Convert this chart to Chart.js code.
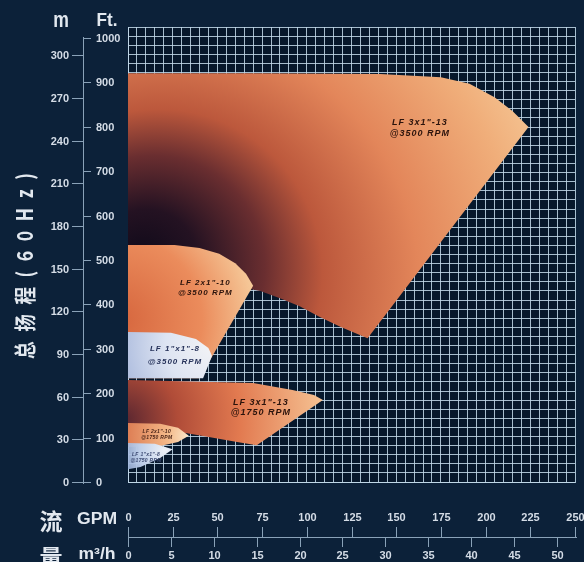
<!DOCTYPE html>
<html>
<head>
<meta charset="utf-8">
<script src="https://cdn.jsdelivr.net/npm/chart.js@4.4.0/dist/chart.umd.min.js"></script>
<style>
  html, body { margin: 0; padding: 0; background: #0c2139; }
  #wrap { width: 584px; height: 562px; position: relative; }
</style>
</head>
<body>
<div id="wrap"><canvas id="canvas"></canvas></div>
<script>
// axis ticks
const gpmTicks = [0, 25, 50, 75, 100, 125, 150, 175, 200, 225, 250]
const m3hTicks = [0, 5, 10, 15, 20, 25, 30, 35, 40, 45, 50]
const ftTicks = [0, 100, 200, 300, 400, 500, 600, 700, 800, 900, 1000]
const mTicks = [0, 30, 60, 90, 120, 150, 180, 210, 240, 270, 300]

// coverage outlines, [GPM, Ft]
const lf3x13_3500 = [[0, 921], [68, 921], [141, 919], [175, 912], [191, 897], [205, 867], [215, 836], [224, 800],
  [134, 324], [119, 349], [107, 372], [96, 396], [85, 414], [74, 430], [63, 439], [40, 446], [0, 448]]
const lf2x10_3500 = [[0, 534], [26, 534], [40, 527], [51, 514], [60, 493], [66, 469], [70, 442], [40, 234], [0, 234]]
const lf1x8_3500 = [[0, 338], [24, 336], [38, 322], [45, 302], [47, 284], [42, 234], [0, 234]]
const lf3x13_1750 = [[0, 230], [70, 223], [92, 207], [104, 196], [109, 185], [72, 83], [61, 90], [46, 101], [33, 110], [0, 117]]
const lf2x10_1750 = [[0, 133], [18, 131], [28, 122], [34, 104], [28, 90], [18, 81], [0, 79]]
const lf1x8_1750 = [[0, 88], [15, 86], [25, 74], [18, 54], [7, 34], [0, 29]]

const names = [
  ['LF 3x1"-13', '@3500 RPM'],
  ['LF 2x1"-10', '@3500 RPM'],
  ['LF 1"x1"-8', '@3500 RPM'],
  ['LF 3x1"-13', '@1750 RPM'],
  ['LF 2x1"-10', '@1750 RPM'],
  ['LF 1"x1"-8', '@1750 RPM'],
]

const FONT = '"Liberation Sans", Arial, sans-serif'
const CJK = '"Noto Sans CJK SC", sans-serif'

// radial fill, inner point (cx,cy) and outer circle centre shifted by (dx,dy) px
function radial(cx, cy, r, stops, dx, dy) {
  return function (c) {
    const chart = c.chart
    const x = chart.scales.x, y = chart.scales.y
    if (!chart.chartArea || !x) return stops[stops.length - 1][1]
    const px = x.getPixelForValue(cx), py = y.getPixelForValue(cy)
    const g = chart.ctx.createRadialGradient(px, py, 0, px + (dx || 0), py + (dy || 0), r)
    stops.forEach(s => g.addColorStop(s[0], s[1]))
    return g
  }
}

function region(data, order, bg) {
  return { data: data, order: order, backgroundColor: bg, fill: 'shape', showLine: true,
    pointRadius: 0, borderWidth: 0, tension: 0 }
}

// draw text char by char with a gap
function spaced(ctx, text, cx, cy, gap) {
  const chars = [...text]
  const ws = chars.map(c => ctx.measureText(c).width)
  const total = ws.reduce((a, b) => a + b, 0) + gap * (chars.length - 1)
  let px = cx - total / 2
  ctx.textAlign = 'left'
  chars.forEach((c, i) => { ctx.fillText(c, px, cy); px += ws[i] + gap })
}

function stretched(ctx, text, x, y, sx) {
  ctx.save()
  ctx.translate(x, y)
  ctx.scale(sx, 1)
  ctx.fillText(text, 0, 0)
  ctx.restore()
}

const labelSpots = [
  { at: [163, 809], gap: 11, size: 9, color: '#2b130c' },
  { at: [43, 448], gap: 10, size: 8, color: '#2b130c' },
  { at: [26, 300], gap: 13, size: 8, color: '#26325a' },
  { at: [74, 180], gap: 10, size: 9, color: '#2b130c' },
  { at: [16, 113], gap: 6, size: 5, color: '#4a2418' },
  { at: [10, 61], gap: 6, size: 5, color: '#3a4870' },
]

const background = {
  id: 'background',
  beforeDraw(chart) {
    const ctx = chart.ctx, a = chart.chartArea
    ctx.save()
    ctx.fillStyle = '#0c2139'
    ctx.fillRect(0, 0, chart.width, chart.height)
    ctx.fillStyle = '#07182c'
    ctx.fillRect(a.left, a.top, a.right - a.left, a.bottom - a.top)
    ctx.restore()
  },
}

const regionLabels = {
  id: 'regionLabels',
  afterDatasetsDraw(chart) {
    const ctx = chart.ctx, x = chart.scales.x, y = chart.scales.y
    ctx.save()
    ctx.textBaseline = 'middle'
    labelSpots.forEach((s, i) => {
      const px = x.getPixelForValue(s.at[0]), py = y.getPixelForValue(s.at[1])
      ctx.font = 'italic bold ' + s.size + 'px ' + FONT
      ctx.fillStyle = s.color
      spaced(ctx, names[i][0], px, py, s.size > 6 ? 1 : 0.3)
      spaced(ctx, names[i][1], px, py + s.gap, s.size > 6 ? 1 : 0.3)
    })
    ctx.restore()
  },
}

const outerAxes = {
  id: 'outerAxes',
  afterDraw(chart) {
    const ctx = chart.ctx
    const { x, y, xm, ym } = chart.scales
    ctx.save()
    ctx.strokeStyle = '#8aa2b8'
    ctx.fillStyle = '#d4dce6'
    ctx.lineWidth = 1

    // left: m / Ft
    ctx.beginPath()
    ctx.moveTo(83.5, 37)
    ctx.lineTo(83.5, 484)
    ctx.stroke()
    ctx.font = 'bold 11px ' + FONT
    ctx.textBaseline = 'middle'
    mTicks.forEach(v => {
      const py = Math.round(ym.getPixelForValue(v)) + 0.5
      ctx.beginPath(); ctx.moveTo(72, py); ctx.lineTo(83, py); ctx.stroke()
      ctx.textAlign = 'right'
      ctx.fillText(String(v), 69, py)
    })
    ftTicks.forEach(v => {
      const py = Math.round(y.getPixelForValue(v)) + 0.5
      ctx.beginPath(); ctx.moveTo(84, py); ctx.lineTo(91, py); ctx.stroke()
      ctx.textAlign = 'left'
      ctx.fillText(String(v), 96, py)
    })

    // bottom: GPM / m3/h
    ctx.beginPath()
    ctx.moveTo(128, 537.5)
    ctx.lineTo(577, 537.5)
    ctx.stroke()
    ctx.textAlign = 'center'
    gpmTicks.forEach(v => {
      const px = Math.round(x.getPixelForValue(v)) + 0.5
      ctx.beginPath(); ctx.moveTo(px, 527); ctx.lineTo(px, 537); ctx.stroke()
      ctx.fillText(String(v), px, 518)
    })
    m3hTicks.forEach(v => {
      const px = Math.round(xm.getPixelForValue(v)) + 0.5
      ctx.beginPath(); ctx.moveTo(px, 538); ctx.lineTo(px, 547); ctx.stroke()
      ctx.fillText(String(v), px, 556)
    })

    // axis titles
    ctx.fillStyle = '#e2e8ef'
    ctx.textAlign = 'center'
    ctx.font = 'bold 22px ' + FONT
    stretched(ctx, 'm', 61, 21, 0.8)
    ctx.font = 'bold 18px ' + FONT
    stretched(ctx, 'Ft.', 107, 21, 0.95)
    ctx.font = 'bold 16px ' + FONT
    stretched(ctx, 'GPM', 97, 520, 1.1)
    stretched(ctx, 'm³/h', 97, 555, 1.1)
    ctx.font = 'bold 23px ' + CJK
    ctx.fillText('流', 51, 521)
    ctx.fillText('量', 51, 557)

    ctx.save()
    ctx.translate(25, 266)
    ctx.rotate(-Math.PI / 2)
    ctx.scale(0.8, 1)
    ctx.font = 'bold 22px ' + CJK
    spaced(ctx, '总扬程(60Hz)', 0, 0, 12)
    ctx.restore()

    ctx.restore()
  },
}

const gridColor = 'rgba(195, 218, 235, 0.85)'

const config = {
  type: 'line',
  data: {
    datasets: [
      region(lf3x13_3500, 6, radial(6.7, 510, 430, [[0, '#100a1a'], [0.12, '#241222'], [0.26, '#6a2e30'],
        [0.38, '#bc583c'], [0.58, '#e3865a'], [0.8, '#f0ae7a'], [1, '#f8d4a4']], 50, 45)),
      region(lf2x10_3500, 4, radial(-4.5, 365, 150, [[0, '#d6663e'], [0.55, '#eb8c5c'], [1, '#f8d8a8']])),
      region(lf1x8_3500, 3, radial(48.7, 309, 100, [[0, '#f4f4f6'], [0.5, '#dde4f2'], [1, '#a8b8dc']])),
      region(lf3x13_1750, 5, radial(-1.7, 140, 210, [[0, '#5a2630'], [0.25, '#b04c38'], [0.55, '#e27a50'], [1, '#f8cc9c']])),
      region(lf2x10_1750, 2, radial(33.5, 104, 70, [[0, '#fbe6c8'], [0.3, '#f4b888'], [1, '#d87048']])),
      region(lf1x8_1750, 1, radial(20.7, 72, 50, [[0, '#eef2f8'], [0.5, '#c0d0ea'], [1, 'rgba(140,165,210,0.85)']])),
    ],
  },
  options: {
    responsive: true,
    maintainAspectRatio: false,
    animation: false,
    layout: { padding: { left: 128, right: 9, top: 27, bottom: 80 } },
    plugins: { legend: { display: false }, tooltip: { enabled: false } },
    scales: {
      x: {
        type: 'linear', min: 0, max: 250,
        ticks: { display: false, stepSize: 5, autoSkip: false },
        grid: { color: gridColor, lineWidth: 1, drawTicks: false },
        border: { color: gridColor },
      },
      y: {
        type: 'linear', min: 0, max: 1025,
        ticks: { display: false, stepSize: 20.5, autoSkip: false },
        grid: { color: gridColor, lineWidth: 1, drawTicks: false },
        border: { color: gridColor },
      },
      xm: { axis: 'x', type: 'linear', display: false, min: 0, max: 52.1 },
      ym: { axis: 'y', type: 'linear', display: false, min: 0, max: 320 },
    },
  },
  plugins: [background, regionLabels, outerAxes],
}

const canvas = document.getElementById('canvas')
const chart = new Chart(canvas, config)
</script>
</body>
</html>
